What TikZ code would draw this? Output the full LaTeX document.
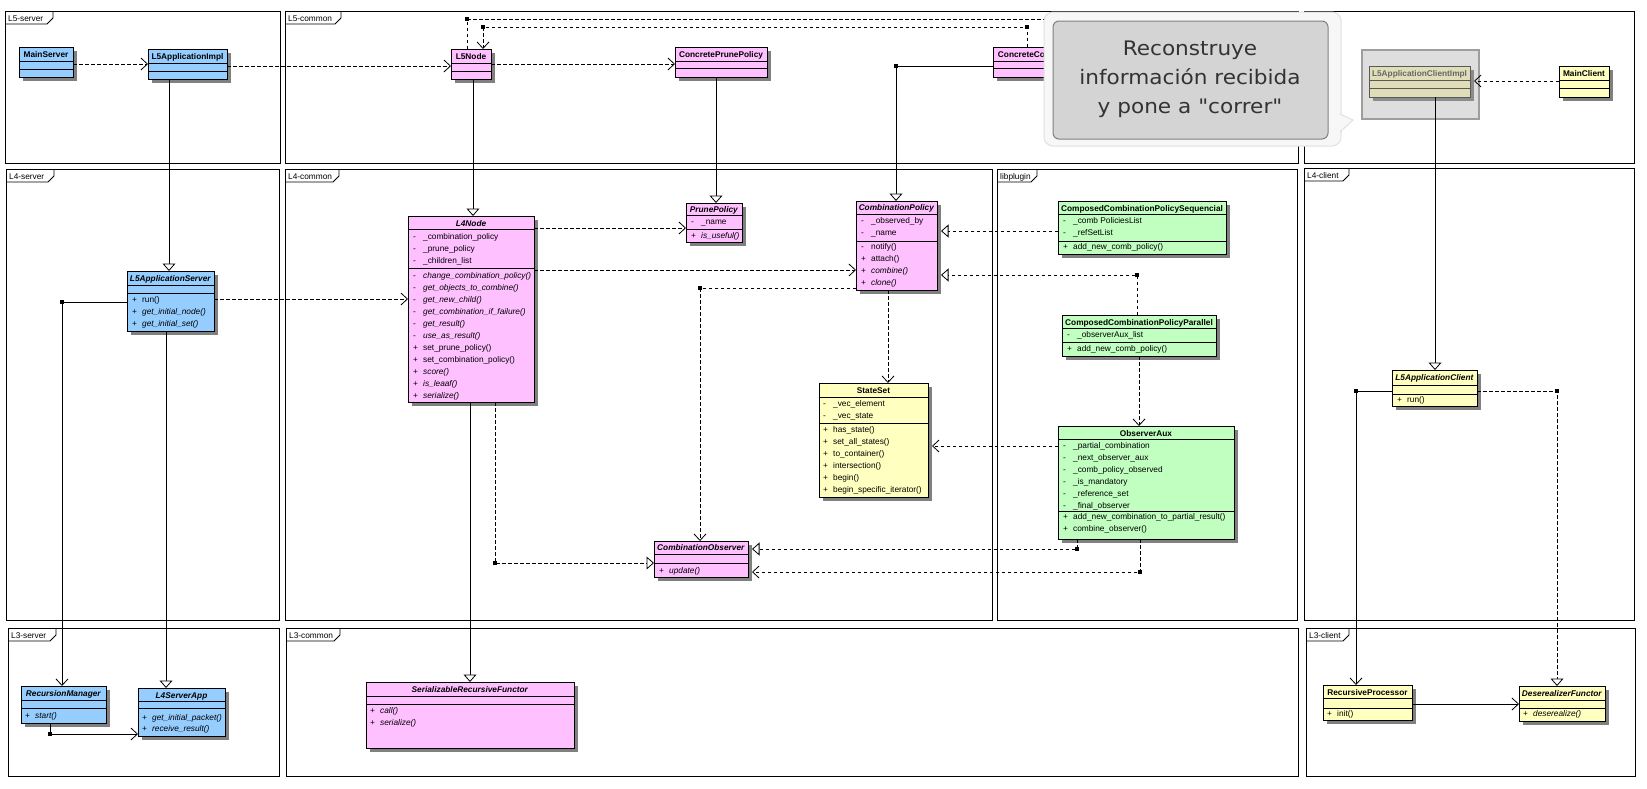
\documentclass[tikz,border=0pt]{standalone}
\usepackage{fontspec}
\setmainfont{Liberation Sans}
\newfontfamily\notefont[FakeStretch=1.08]{DejaVu Sans}
\usetikzlibrary{arrows.meta,fit}
\definecolor{cblue}{RGB}{150,205,255}
\definecolor{cpink}{RGB}{255,192,255}
\definecolor{cyel}{RGB}{255,255,192}
\definecolor{cgreen}{RGB}{192,255,192}
\definecolor{cshadow}{RGB}{128,128,128}
\definecolor{cdim}{RGB}{224,222,184}
\newcommand\umlfont{\fontsize{8.3}{10}\selectfont}
\newcommand\umm[2]{\makebox[10pt][l]{#1}#2}
\newcommand\uboxd[7]{%
  \fill[cshadow] (#2+4,#3+4) rectangle (#4+4,#5+4);
  \node[clsbox, fill=#6, fit={(#2,#3) (#4,#5)}] (#1) {};
  \foreach \dv in {#7}{\draw[clsdiv] (#2,\dv) -- (#4,\dv);}%
}
\newcommand\uttl[3]{\node[ttlst] (#1-title) at (#1.north |- 0,#2) {#3};}
\newcommand\mlines[5]{\foreach \mlitem [count=\ci] in {#5}{\node[mline] (#1-\ci) at (#2,{#3+(\ci-1)*#4}) {\mlitem};}}
\newcommand\ufrm[7]{%
  \node[uframe, fit={(#2,#3) (#4,#5)}] (#1) {};
  \draw[uframeline] (#2,#3+13) -- (#2+#7-6,#3+13) -- (#2+#7,#3+7) -- (#2+#7,#3);
  \node[flabel] (#1-lbl) at (#2+3,#3+10) {#6};
}
\newcommand\jdot[2]{\fill (#1-1.6,#2-1.6) rectangle (#1+1.6,#2+1.6);}
\begin{document}
\begin{tikzpicture}[x=1pt,y=-1pt,
  uframe/.style={draw, line width=0.9pt, inner sep=0pt, outer sep=0pt},
  uframeline/.style={line width=0.8pt},
  flabel/.style={anchor=base west, inner sep=0pt, font=\umlfont},
  clsbox/.style={draw, line width=0.9pt, inner sep=0pt, outer sep=0pt},
  clsdiv/.style={line width=0.9pt},
  ttlst/.style={anchor=base, inner sep=0pt, font=\umlfont\bfseries},
  mline/.style={anchor=base west, inner sep=0pt, font=\umlfont},
  dsh/.style={line width=0.8pt, dash pattern=on 3.5pt off 2.5pt},
  udep/.style={dsh, -{Straight Barb[length=6.5pt,width=12pt]}},
  ureal/.style={dsh, -{Triangle[fill=white,length=7.5pt,width=13pt]}},
  ugen/.style={line width=0.8pt, -{Triangle[fill=white,length=7.5pt,width=13pt]}},
  uassoc/.style={line width=0.8pt, -{Straight Barb[length=6.5pt,width=12pt]}},
  notetxt/.style={anchor=base, inner sep=0pt, text=black!80, font=\notefont\fontsize{20}{24}\selectfont}
]
\useasboundingbox (0,0) rectangle (1647,788);
\fill[white] (0,0) rectangle (1647,788);

% ---------- frames ----------
\ufrm{fL5s}{5}{11}{280}{163}{L5-server}{48}
\ufrm{fL5c}{285}{11}{1298}{163}{L5-common}{56}
\node[uframe, fit={(1304,11) (1634,163)}] (fL5cl) {};
\ufrm{fL4s}{6}{169}{279}{620}{L4-server}{48}
\ufrm{fL4c}{285}{169}{992}{620}{L4-common}{54}
\ufrm{flib}{997}{169}{1297}{620}{libplugin}{40}
\ufrm{fL4cl}{1304}{168}{1634}{620}{L4-client}{45}
\ufrm{fL3s}{8}{628}{279}{776}{L3-server}{48}
\ufrm{fL3c}{286}{628}{1298}{776}{L3-common}{54}
\ufrm{fL3cl}{1306}{628}{1635}{776}{L3-client}{43}

% ---------- L5 ----------
\uboxd{mainserver}{19}{47}{73}{77}{cblue}{61,69}
\uttl{mainserver}{57}{MainServer}
\uboxd{l5impl}{148}{49}{227}{79}{cblue}{63,71}
\uttl{l5impl}{59}{L5ApplicationImpl}
\uboxd{l5node}{451}{49}{491}{79}{cpink}{63,71}
\uttl{l5node}{59}{L5Node}
\uboxd{cprune}{675}{47}{767}{77}{cpink}{61,68}
\uttl{cprune}{57}{ConcretePrunePolicy}
\uboxd{ccomb}{993}{47}{1114}{77}{cpink}{61,68}
\uttl{ccomb}{57}{ConcreteCombinationPolicy}

\node[draw=black!38, fill=black!13, line width=1.6pt, inner sep=0pt, outer sep=0pt, fit={(1362,50) (1479,119)}] (cont) {};
\fill[black!45] (1373,70) rectangle (1474,101);
\node[clsbox, draw=black!65, fill=cdim, fit={(1369,66) (1470,97)}] (l5climpl) {};
\draw[clsdiv, draw=black!65] (1369,80) -- (1470,80);
\draw[clsdiv, draw=black!65] (1369,88) -- (1470,88);
\node[ttlst, text=black!60] (l5climpl-title) at (l5climpl.north |- 0,76) {L5ApplicationClientImpl};
\uboxd{mainclient}{1559}{66}{1609}{97}{cyel}{80,88}
\uttl{mainclient}{76}{MainClient}

% ---------- L4 server ----------
\uboxd{l5srv}{127}{271}{214}{331}{cblue}{285,293}
\uttl{l5srv}{281}{\textit{L5ApplicationServer}}
\mlines{l5srv-o}{132}{302.5}{12}{\umm{+}{run()}, \umm{+}{\textit{get\_initial\_node()}}, \umm{+}{\textit{get\_initial\_set()}}}

% ---------- L4 common ----------
\uboxd{l4node}{408}{216}{534}{402}{cpink}{229,268}
\uttl{l4node}{226}{\textit{L4Node}}
\mlines{l4node-a}{413}{239.5}{12}{\umm{-}{\_combination\_policy}, \umm{-}{\_prune\_policy}, \umm{-}{\_children\_list}}
\mlines{l4node-o}{413}{278.5}{12}{\umm{-}{\textit{change\_combination\_policy()}}, \umm{-}{\textit{get\_objects\_to\_combine()}}, \umm{-}{\textit{get\_new\_child()}}, \umm{-}{\textit{get\_combination\_if\_failure()}}, \umm{-}{\textit{get\_result()}}, \umm{-}{\textit{use\_as\_result()}}, \umm{+}{set\_prune\_policy()}, \umm{+}{set\_combination\_policy()}, \umm{+}{\textit{score()}}, \umm{+}{\textit{is\_leaaf()}}, \umm{+}{\textit{serialize()}}}

\uboxd{prune}{686}{203}{742}{242}{cpink}{215,229}
\uttl{prune}{212.5}{\textit{PrunePolicy}}
\mlines{prune-a}{691}{224.5}{12}{\umm{-}{\_name}}
\mlines{prune-o}{691}{238.5}{12}{\umm{+}{\textit{is\_useful()}}}

\uboxd{combpol}{856}{201}{937}{290}{cpink}{214,241}
\uttl{combpol}{210.8}{\textit{CombinationPolicy}}
\mlines{combpol-a}{861}{223.5}{12}{\umm{-}{\_observed\_by}, \umm{-}{\_name}}
\mlines{combpol-o}{861}{249.5}{12}{\umm{-}{notify()}, \umm{+}{attach()}, \umm{+}{\textit{combine()}}, \umm{+}{\textit{clone()}}}

\uboxd{stateset}{819}{383}{928}{497}{cyel}{397,423}
\uttl{stateset}{393}{StateSet}
\mlines{stateset-a}{823}{406.5}{12}{\umm{-}{\_vec\_element}, \umm{-}{\_vec\_state}}
\mlines{stateset-o}{823}{432.5}{12}{\umm{+}{has\_state()}, \umm{+}{set\_all\_states()}, \umm{+}{to\_container()}, \umm{+}{intersection()}, \umm{+}{begin()}, \umm{+}{begin\_specific\_iterator()}}

\uboxd{combobs}{654}{541}{748}{577}{cpink}{554,563}
\uttl{combobs}{550.8}{\textit{CombinationObserver}}
\mlines{combobs-o}{659}{573.5}{12}{\umm{+}{\textit{update()}}}

% ---------- libplugin ----------
\uboxd{ccpseq}{1058}{201}{1226}{254}{cgreen}{214,241}
\uttl{ccpseq}{211}{ComposedCombinationPolicySequencial}
\mlines{ccpseq-a}{1063}{223.5}{12}{\umm{-}{\_comb PoliciesList}, \umm{-}{\_refSetList}}
\mlines{ccpseq-o}{1063}{249.5}{12}{\umm{+}{add\_new\_comb\_policy()}}

\uboxd{ccppar}{1062}{315}{1216}{356}{cgreen}{328,342}
\uttl{ccppar}{325}{ComposedCombinationPolicyParallel}
\mlines{ccppar-a}{1067}{337.5}{12}{\umm{-}{\_observerAux\_list}}
\mlines{ccppar-o}{1067}{351.5}{12}{\umm{+}{add\_new\_comb\_policy()}}

\uboxd{obsaux}{1058}{426}{1234}{539}{cgreen}{439,511}
\uttl{obsaux}{436}{ObserverAux}
\mlines{obsaux-a}{1063}{448.5}{12}{\umm{-}{\_partial\_combination}, \umm{-}{\_next\_observer\_aux}, \umm{-}{\_comb\_policy\_observed}, \umm{-}{\_is\_mandatory}, \umm{-}{\_reference\_set}, \umm{-}{\_final\_observer}}
\mlines{obsaux-o}{1063}{519.5}{12}{\umm{+}{add\_new\_combination\_to\_partial\_result()}, \umm{+}{combine\_observer()}}

% ---------- L4 client ----------
\uboxd{l5cli}{1392}{370}{1477}{406}{cyel}{385,394}
\uttl{l5cli}{380}{\textit{L5ApplicationClient}}
\mlines{l5cli-o}{1397}{402.5}{12}{\umm{+}{run()}}

% ---------- L3 ----------
\uboxd{recman}{21}{686}{106}{723}{cblue}{700,708}
\uttl{recman}{696}{\textit{RecursionManager}}
\mlines{recman-o}{25}{718.5}{12}{\umm{+}{\textit{start()}}}
\uboxd{l4sapp}{138}{688}{225}{736}{cblue}{701,708}
\uttl{l4sapp}{698}{\textit{L4ServerApp}}
\mlines{l4sapp-o}{142}{720}{11.5}{\umm{+}{\textit{get\_initial\_packet()}}, \umm{+}{\textit{receive\_result()}}}
\uboxd{srf}{366}{682}{574}{748}{cpink}{696,704}
\uttl{srf}{692}{\textit{SerializableRecursiveFunctor}}
\mlines{srf-o}{370}{713.5}{12}{\umm{+}{\textit{call()}}, \umm{+}{\textit{serialize()}}}
\uboxd{recproc}{1323}{685}{1412}{720}{cyel}{698,708}
\uttl{recproc}{695}{RecursiveProcessor}
\mlines{recproc-o}{1327}{716}{12}{\umm{+}{init()}}
\uboxd{deser}{1519}{686}{1605}{721}{cyel}{700,708}
\uttl{deser}{696}{\textit{DeserealizerFunctor}}
\mlines{deser-o}{1523}{716.5}{12}{\umm{+}{\textit{deserealize()}}}

% ---------- connectors ----------
\draw[udep] (mainserver.east |- 0,64) -- (l5impl.west |- 0,64);
\draw[udep] (l5impl.east |- 0,66) -- (l5node.west |- 0,66);
\draw[udep] (l5node.east |- 0,64) -- (cprune.west |- 0,64);
\draw[dsh] (l5node.north -| 467,0) -- (467,19) -- (1120,19);
\jdot{467}{19}
\draw[udep] (ccomb.north -| 1027,0) -- (1027,27) -- (483,27) -- (l5node.north -| 483,0);
\jdot{1027}{27}\jdot{483}{27}
\draw[ugen] (ccomb.west |- 0,66) -- (896,66) -- (combpol.north -| 896,0);
\jdot{896}{66}
\draw[ugen] (l5node.south -| 473,0) -- (l4node.north -| 473,0);
\draw[ugen] (cprune.south -| 716,0) -- (prune.north -| 716,0);
\draw[ugen] (l5impl.south -| 169,0) -- (l5srv.north -| 169,0);
\draw[uassoc] (l5srv.west |- 0,302) -- (62,302) -- (recman.north -| 62,0);
\jdot{62}{302}
\draw[ugen] (l5srv.south -| 166,0) -- (l4sapp.north -| 166,0);
\draw[udep] (l5srv.east |- 0,299) -- (l4node.west |- 0,299);
\draw[udep] (l4node.east |- 0,228) -- (prune.west |- 0,228);
\draw[udep] (l4node.east |- 0,270) -- (combpol.west |- 0,270);
\draw[udep] (combpol.west |- 0,288) -- (700,288) -- (combobs.north -| 700,0);
\jdot{700}{288}
\draw[udep] (combpol.south -| 888,0) -- (stateset.north -| 888,0);
\draw[ureal] (ccpseq.west |- 0,231) -- (941,231);
\draw[ureal] (ccppar.north -| 1137,0) -- (1137,275) -- (941,275);
\jdot{1137}{275}
\draw[udep] (ccppar.south -| 1139,0) -- (obsaux.north -| 1139,0);
\draw[udep] (obsaux.west |- 0,446) -- (932,446);
\draw[ureal] (obsaux.south -| 1077,0) -- (1077,549) -- (752,549);
\jdot{1077}{549}
\draw[udep] (obsaux.south -| 1140,0) -- (1140,572) -- (752,572);
\jdot{1140}{572}
\draw[ureal] (l4node.south -| 495,0) -- (495,563) -- (combobs.west |- 0,563);
\jdot{495}{563}
\draw[ugen] (l4node.south -| 470,0) -- (srf.north -| 470,0);
\draw[uassoc] (recman.south -| 50,0) -- (50,734) -- (l4sapp.west |- 0,734);
\jdot{50}{734}
\draw[udep] (mainclient.west |- 0,81) -- (1474,81);
\draw[ugen] (l5climpl.south -| 1435,0) -- (l5cli.north -| 1435,0);
\draw[uassoc] (l5cli.west |- 0,391) -- (1356,391) -- (recproc.north -| 1356,0);
\jdot{1356}{391}
\draw[ureal] (l5cli.east |- 0,391) -- (1557,391) -- (deser.north -| 1557,0);
\jdot{1557}{391}
\draw[uassoc] (recproc.east |- 0,704) -- (deser.west |- 0,704);

% ---------- note ----------
\path[draw=black!12, fill=black!3, line width=1pt, rounded corners=9pt] (1044,12) rectangle (1341,146);
\path[draw=black!12, fill=black!3, line width=1pt] (1340,114) -- (1353,120) -- (1340,132);
\node[draw=black!50, fill=black!17, line width=1pt, rounded corners=6pt, inner sep=0pt, outer sep=0pt, fit={(1053,21) (1328,139)}] (note) {};
\node[notetxt] (note-1) at (1190,55) {Reconstruye};
\node[notetxt] (note-2) at (1190,84) {información recibida};
\node[notetxt] (note-3) at (1190,113) {y pone a "correr"};
\end{tikzpicture}
\end{document}
